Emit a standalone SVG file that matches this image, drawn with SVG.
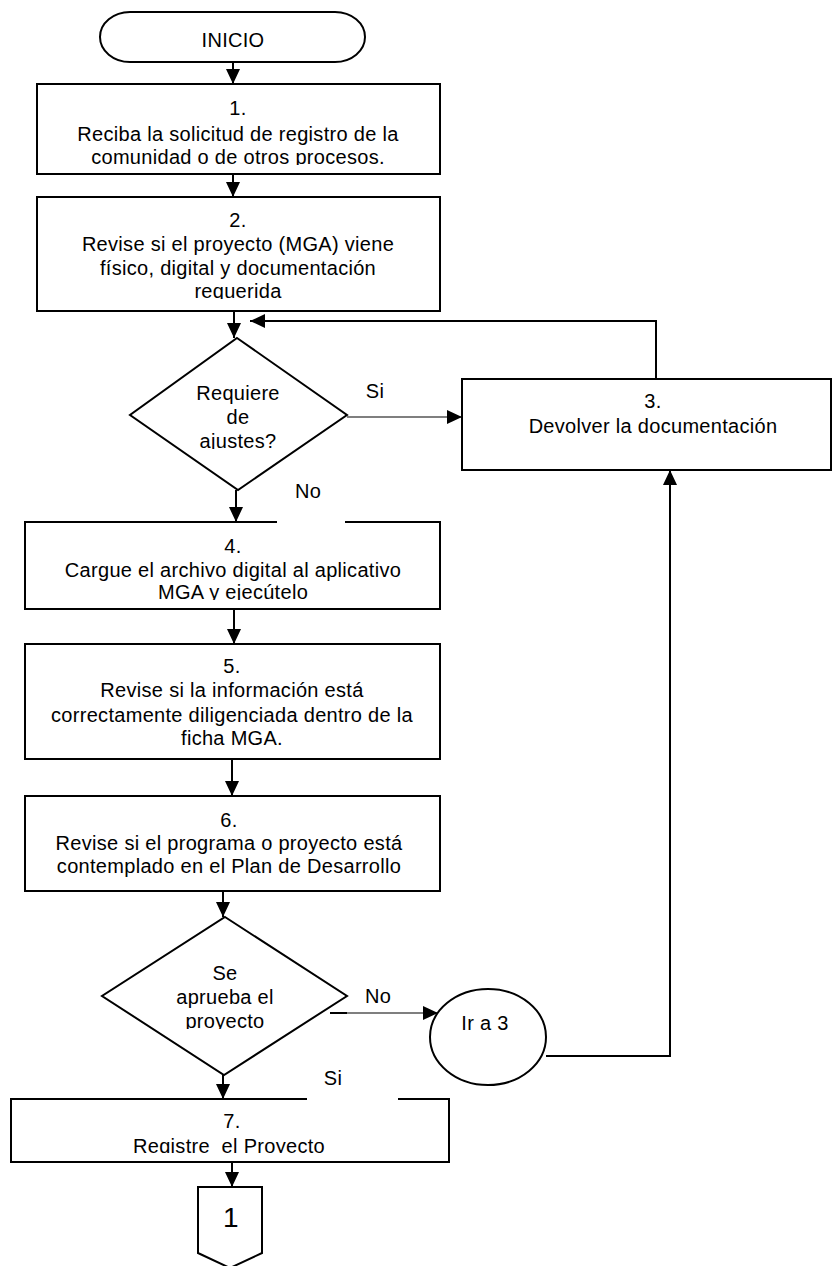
<svg xmlns="http://www.w3.org/2000/svg" width="832" height="1266" viewBox="0 0 832 1266">
<style>
.t{font-family:"Liberation Sans",Arial,Helvetica,sans-serif;font-size:20px;letter-spacing:0.3px;text-anchor:middle;fill:#000}
.s{fill:#fff;stroke:#000;stroke-width:2}
.c{fill:none;stroke:#000;stroke-width:2}
.th{fill:none;stroke:#000;stroke-width:1.2}
.bg{fill:#fff;stroke:none}
</style>
<defs>
<marker id="ah" viewBox="0 0 15 14" markerWidth="15" markerHeight="14" refX="15" refY="7" orient="auto" markerUnits="userSpaceOnUse"><path d="M0,0 L15,7 L0,14 z" fill="#000"/></marker>
<clipPath id="k1"><rect x="0" y="0" width="832" height="165"/></clipPath>
<clipPath id="k2"><rect x="0" y="0" width="832" height="299"/></clipPath>
<clipPath id="kd1"><rect x="0" y="0" width="832" height="449"/></clipPath>
<clipPath id="k4"><rect x="0" y="0" width="832" height="600"/></clipPath>
<clipPath id="kd2"><rect x="0" y="0" width="832" height="1029"/></clipPath>
<clipPath id="k7"><rect x="0" y="0" width="832" height="1153"/></clipPath>
</defs>
<rect width="832" height="1266" fill="#fff"/>

<g id="connectors">
<line class="c" x1="233" y1="62" x2="233" y2="84" marker-end="url(#ah)"/>
<line class="c" x1="233" y1="174" x2="233" y2="197" marker-end="url(#ah)"/>
<line class="c" x1="234" y1="311" x2="234" y2="338" marker-end="url(#ah)"/>
<line class="th" x1="347" y1="417" x2="462" y2="417" marker-end="url(#ah)"/>
<path class="c" d="M656,379 V321 H250" marker-end="url(#ah)"/>
<line class="c" x1="236" y1="490" x2="236" y2="522" marker-end="url(#ah)"/>
<line class="c" x1="234" y1="609" x2="234" y2="644" marker-end="url(#ah)"/>
<line class="c" x1="232" y1="759" x2="232" y2="796" marker-end="url(#ah)"/>
<line class="c" x1="223" y1="891" x2="223" y2="917" marker-end="url(#ah)"/>
<line class="th" x1="330" y1="1013" x2="438" y2="1013" marker-end="url(#ah)"/>
<line class="c" x1="330" y1="1013" x2="347" y2="1013"/>
<path class="c" d="M546,1056 H670 V470" marker-end="url(#ah)"/>
<line class="c" x1="223" y1="1075" x2="223" y2="1099" marker-end="url(#ah)"/>
<line class="c" x1="232" y1="1162" x2="232" y2="1187" marker-end="url(#ah)"/>
</g>

<g id="inicio">
<rect class="s" x="100" y="12" width="265" height="50" rx="30" ry="25"/>
<text class="t" x="233" y="47">INICIO</text>
</g>

<g id="n1">
<rect class="s" x="37" y="84" width="403" height="90"/>
<text class="t" x="238" y="115">1.</text>
<text class="t" x="238" y="141">Reciba la solicitud de registro de la</text>
<text class="t" x="238" y="164" clip-path="url(#k1)">comunidad o de otros procesos.</text>
</g>

<g id="n2">
<rect class="s" x="37" y="197" width="403" height="114"/>
<text class="t" x="238" y="227">2.</text>
<text class="t" x="238" y="251">Revise si el proyecto (MGA) viene</text>
<text class="t" x="238" y="275">físico, digital y documentación</text>
<text class="t" x="238" y="298" clip-path="url(#k2)">requerida</text>
</g>

<g id="d1">
<polygon class="s" points="237,338 347,415 238,490 130,415"/>
<text class="t" x="238" y="400">Requiere</text>
<text class="t" x="238" y="424">de</text>
<text class="t" x="238" y="448" clip-path="url(#kd1)">ajustes?</text>
</g>

<g id="n3">
<rect class="s" x="462" y="379" width="369" height="91"/>
<text class="t" x="653" y="408">3.</text>
<text class="t" x="653" y="433">Devolver la documentación</text>
</g>

<g id="n4">
<rect class="s" x="25" y="522" width="415" height="87"/>
<text class="t" x="233" y="553">4.</text>
<text class="t" x="233" y="577">Cargue el archivo digital al aplicativo</text>
<text class="t" x="233" y="599" clip-path="url(#k4)">MGA y ejecútelo</text>
</g>

<g id="n5">
<rect class="s" x="25" y="644" width="415" height="115"/>
<text class="t" x="232" y="673">5.</text>
<text class="t" x="232" y="697">Revise si la información está</text>
<text class="t" x="232" y="722">correctamente diligenciada dentro de la</text>
<text class="t" x="232" y="745">ficha MGA.</text>
</g>

<g id="n6">
<rect class="s" x="25" y="796" width="415" height="95"/>
<text class="t" x="229" y="827">6.</text>
<text class="t" x="229" y="850">Revise si el programa o proyecto está</text>
<text class="t" x="229" y="873">contemplado en el Plan de Desarrollo</text>
</g>

<g id="d2">
<polygon class="s" points="225,917 347,996 224,1075 102,996"/>
<text class="t" x="225" y="980">Se</text>
<text class="t" x="225" y="1004">aprueba el</text>
<text class="t" x="225" y="1028" clip-path="url(#kd2)">proyecto</text>
</g>

<g id="ir3">
<ellipse class="s" cx="488" cy="1037" rx="58" ry="48"/>
<text class="t" x="485" y="1030">Ir a 3</text>
</g>

<g id="n7">
<rect class="s" x="11" y="1099" width="438" height="63"/>
<text class="t" x="232" y="1128">7.</text>
<text class="t" x="229" y="1153" clip-path="url(#k7)">Registre&#160; el Proyecto</text>
</g>

<g id="off1">
<polygon class="s" points="198,1187 262,1187 262,1253 230,1268 198,1253"/>
<text class="t" x="231" y="1227" style="font-size:28px">1</text>
</g>

<g id="labels">
<text class="t" x="375" y="398">Si</text>
<rect class="bg" x="277" y="519" width="68" height="6"/>
<text class="t" x="308" y="498">No</text>
<text class="t" x="378" y="1003">No</text>
<rect class="bg" x="307" y="1096" width="91" height="6"/>
<text class="t" x="333" y="1085">Si</text>
</g>
</svg>
